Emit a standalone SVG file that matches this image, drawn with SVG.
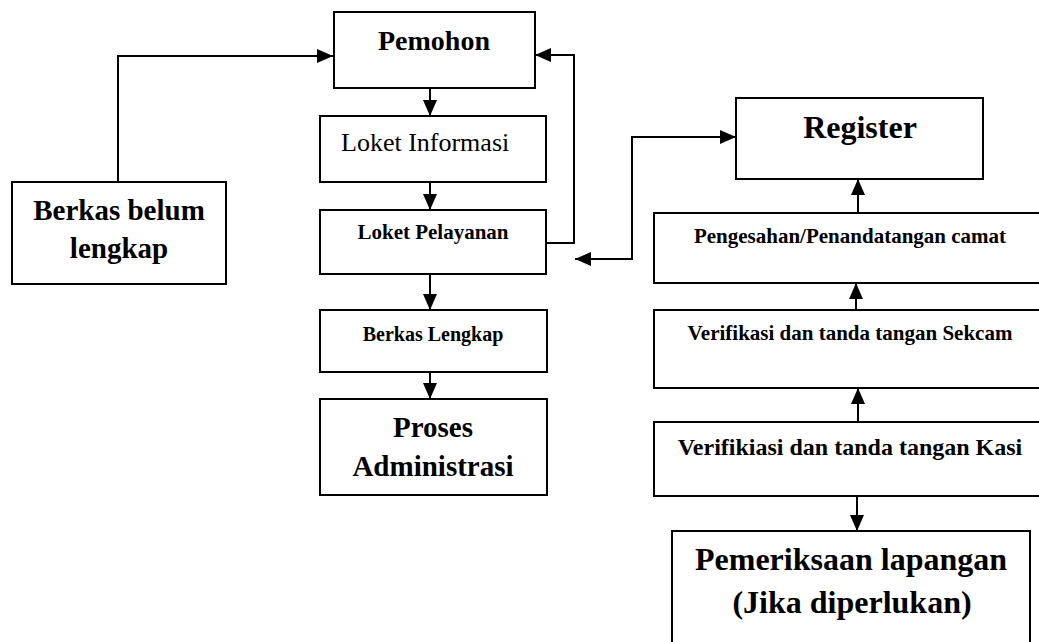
<svg xmlns="http://www.w3.org/2000/svg" width="1039" height="642" viewBox="0 0 1039 642">
<style>
.box{fill:#fff;stroke:#000;stroke-width:2}
.t{font-family:"Liberation Serif","Times New Roman",serif;fill:#000;text-anchor:middle}
.b{font-weight:bold}
.c{fill:none;stroke:#000;stroke-width:2}
</style>
<defs>
<marker id="ah" viewBox="0 0 16 14" refX="16" refY="7" markerWidth="16" markerHeight="14" markerUnits="userSpaceOnUse" orient="auto-start-reverse">
<path d="M0,0 L16,7 L0,14 z" fill="#000"/>
</marker>
</defs>
<rect width="1039" height="642" fill="#fff"/>
<g id="connectors">
<path class="c" d="M118,182 V56 H333" marker-end="url(#ah)"/>
<path class="c" d="M546,243 H574 V55 H535" marker-end="url(#ah)"/>
<path class="c" d="M430,88 V116" marker-end="url(#ah)"/>
<path class="c" d="M430,182 V210" marker-end="url(#ah)"/>
<path class="c" d="M430,274 V310" marker-end="url(#ah)"/>
<path class="c" d="M430,372 V399" marker-end="url(#ah)"/>
<path class="c" d="M575,259 H632 V137 H736" marker-start="url(#ah)" marker-end="url(#ah)"/>
<path class="c" d="M858,213 V179" marker-end="url(#ah)"/>
<path class="c" d="M856,310 V283" marker-end="url(#ah)"/>
<path class="c" d="M858,422 V388" marker-end="url(#ah)"/>
<path class="c" d="M857,496 V531" marker-end="url(#ah)"/>
</g>
<g id="pemohon">
<rect class="box" x="334" y="12" width="201" height="76"/>
<text class="t b" x="434" y="50" font-size="28">Pemohon</text>
</g>
<g id="berkas-belum">
<rect class="box" x="12" y="182" width="214" height="102"/>
<text class="t b" x="119" y="220" font-size="29">Berkas belum</text>
<text class="t b" x="119" y="258" font-size="29">lengkap</text>
</g>
<g id="loket-informasi">
<rect class="box" x="320" y="116" width="226" height="66"/>
<text class="t" x="341" y="151" font-size="26" style="text-anchor:start">Loket Informasi</text>
</g>
<g id="loket-pelayanan">
<rect class="box" x="320" y="210" width="226" height="64"/>
<text class="t b" x="433" y="239" font-size="21">Loket Pelayanan</text>
</g>
<g id="berkas-lengkap">
<rect class="box" x="320" y="310" width="227" height="62"/>
<text class="t b" x="433" y="341" font-size="20">Berkas Lengkap</text>
</g>
<g id="proses">
<rect class="box" x="320" y="399" width="227" height="96"/>
<text class="t b" x="433" y="437" font-size="29">Proses</text>
<text class="t b" x="433" y="476" font-size="29">Administrasi</text>
</g>
<g id="register">
<rect class="box" x="736" y="98" width="247" height="81"/>
<text class="t b" x="860" y="138" font-size="32">Register</text>
</g>
<g id="pengesahan">
<rect class="box" x="654" y="213" width="392" height="70"/>
<text class="t b" x="850" y="243" font-size="21">Pengesahan/Penandatangan camat</text>
</g>
<g id="sekcam">
<rect class="box" x="654" y="310" width="392" height="78"/>
<text class="t b" x="850" y="340" font-size="21">Verifikasi dan tanda tangan Sekcam</text>
</g>
<g id="kasi">
<rect class="box" x="654" y="422" width="392" height="74"/>
<text class="t b" x="850" y="455" font-size="24">Verifikiasi dan tanda tangan Kasi</text>
</g>
<g id="pemeriksaan">
<rect class="box" x="672" y="531" width="358" height="130"/>
<text class="t b" x="851" y="570" font-size="32">Pemeriksaan lapangan</text>
<text class="t b" x="852" y="613" font-size="32">(Jika diperlukan)</text>
</g>
</svg>
